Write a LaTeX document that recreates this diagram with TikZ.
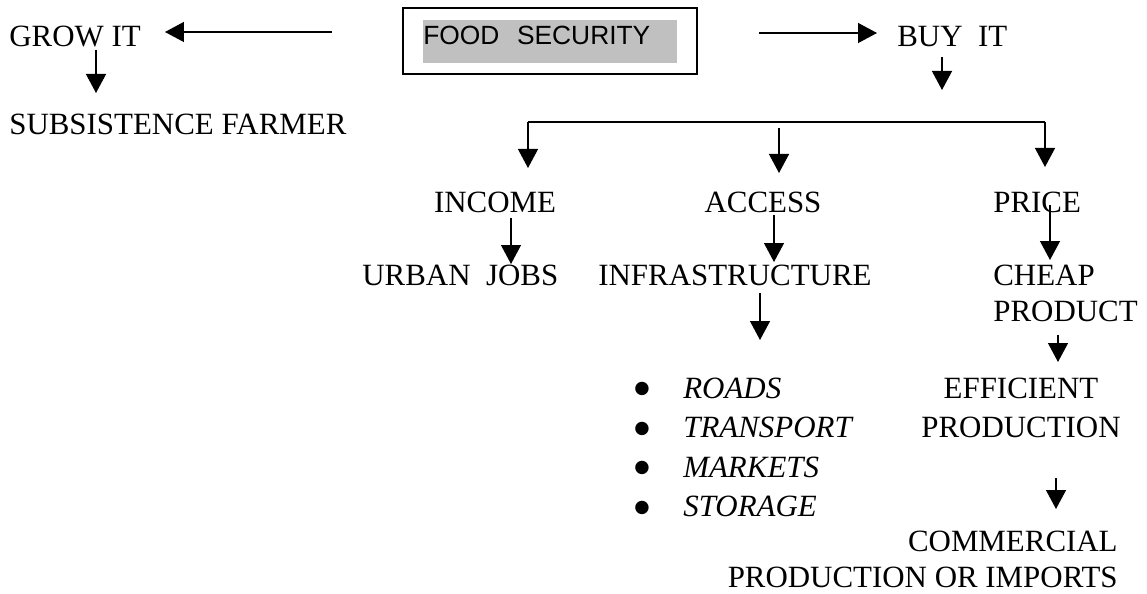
\documentclass[tikz,border=0pt]{standalone}
\usepackage{fontspec}
\setmainfont{Liberation Serif}
\newfontfamily\arialfont{Liberation Sans}
\newfontfamily\dotfont{DejaVu Sans}
\usepackage{tikz}
\usetikzlibrary{arrows.meta}
\definecolor{hlgray}{RGB}{192,192,192}
\newcommand{\itm}[1]{\makebox[0.98cm][l]{\raisebox{0.09cm}{\dotfont\fontsize{10}{10}\selectfont ●}}\textit{#1}}
\tikzset{txt/.style={inner sep=0pt,font=\fontsize{17.6}{20.5}\selectfont},
         secbox/.style={rectangle,draw,line width=1.1pt,minimum width=5.88cm,minimum height=1.32cm},
         hlbox/.style={rectangle,fill=hlgray,inner sep=0pt,text width=5.08cm,align=left,text height=0.5cm,text depth=0.36cm,font=\arialfont\fontsize{15}{18}\selectfont},
         arrow/.style={-{Triangle[length=0.38cm,width=0.4cm]},line width=0.75pt},
         busline/.style={line width=0.75pt}}

\begin{document}
\begin{tikzpicture}[x=0.02cm,y=-0.02cm]
    \useasboundingbox (0,0) rectangle (1147,594);
    % Centre box
    \node (sec) [secbox] at (550,41) {};
    \node (food) [hlbox, anchor=base west] at (423,45) {FOOD\ \ SECURITY};
    % Left branch
    \node (grow) [txt, anchor=base west] at (9,47) {GROW IT};
    \node (subs) [txt, anchor=base west] at (9,135) {SUBSISTENCE FARMER};
    % Right branch
    \node (buy) [txt, anchor=base west] at (897,47) {BUY\ \ IT};
    \coordinate (busL) at (528,122);
    \coordinate (busR) at (1045,122);
    \node (income) [txt, anchor=base] at (495,213) {INCOME};
    \node (access) [txt, anchor=base] at (763,213) {ACCESS};
    \node (price) [txt, anchor=base west] at (993,213) {PRICE};
    \node (jobs) [txt, anchor=base west] at (362,286) {URBAN\ \ JOBS};
    \node (infra) [txt, anchor=base west] at (598,286) {INFRASTRUCTURE};
    \node (cheap) [txt, anchor=base west, align=left] at (993,322) {CHEAP\\PRODUCT};
    \node (infralist) [txt, anchor=base west, align=left, font=\fontsize{17.6}{22.5}\selectfont] at (634,517)
      {\itm{ROADS}\\\itm{TRANSPORT}\\\itm{MARKETS}\\\itm{STORAGE}};
    \node (efficient) [txt, anchor=base, align=center, font=\fontsize{17.6}{22.3}\selectfont] at (1021,438) {EFFICIENT\\PRODUCTION};
    \node (comm) [txt, anchor=base east, align=right] at (1118,588) {COMMERCIAL\\PRODUCTION OR IMPORTS};
    % Arrows
    \draw[arrow] ([shift={(-70,-9)}]sec.west) -- ([shift={(156,-15)}]grow.base west);
    \draw[arrow] ([shift={(61,-8)}]sec.east) -- ([shift={(-20,-14)}]buy.base west);
    \draw[arrow] ([shift={(87,3)}]grow.base west) -- ([shift={(87,-42)}]subs.base west);
    \draw[arrow] ([shift={(45,10)}]buy.base west) -- ++(0,33);
    \draw[busline] (busL) -- (busR);
    \draw[arrow] (busL) -- ([shift={(33,-45)}]income.base);
    \draw[arrow] ([shift={(16,-85)}]access.base) -- ([shift={(16,-40)}]access.base);
    \draw[arrow] (busR) -- ([shift={(52,-46)}]price.base west);
    \draw[arrow] ([shift={(16,5)}]income.base) -- ([shift={(149,-22)}]jobs.base west);
    \draw[arrow] ([shift={(11,2)}]access.base) -- ([shift={(176,-24)}]infra.base west);
    \draw[arrow] ([shift={(57,-8)}]price.base west) -- ([shift={(57,-62)}]cheap.base west);
    \draw[arrow] ([shift={(162,7)}]infra.base west) -- ([shift={(126,-177)}]infralist.base west);
    \draw[arrow] ([shift={(65,13)}]cheap.base west) -- ([shift={(37,-76)}]efficient.base);
    \draw[arrow] ([shift={(35,40)}]efficient.base) -- ([shift={(-62,-79)}]comm.base east);
  \end{tikzpicture}
\end{document}
